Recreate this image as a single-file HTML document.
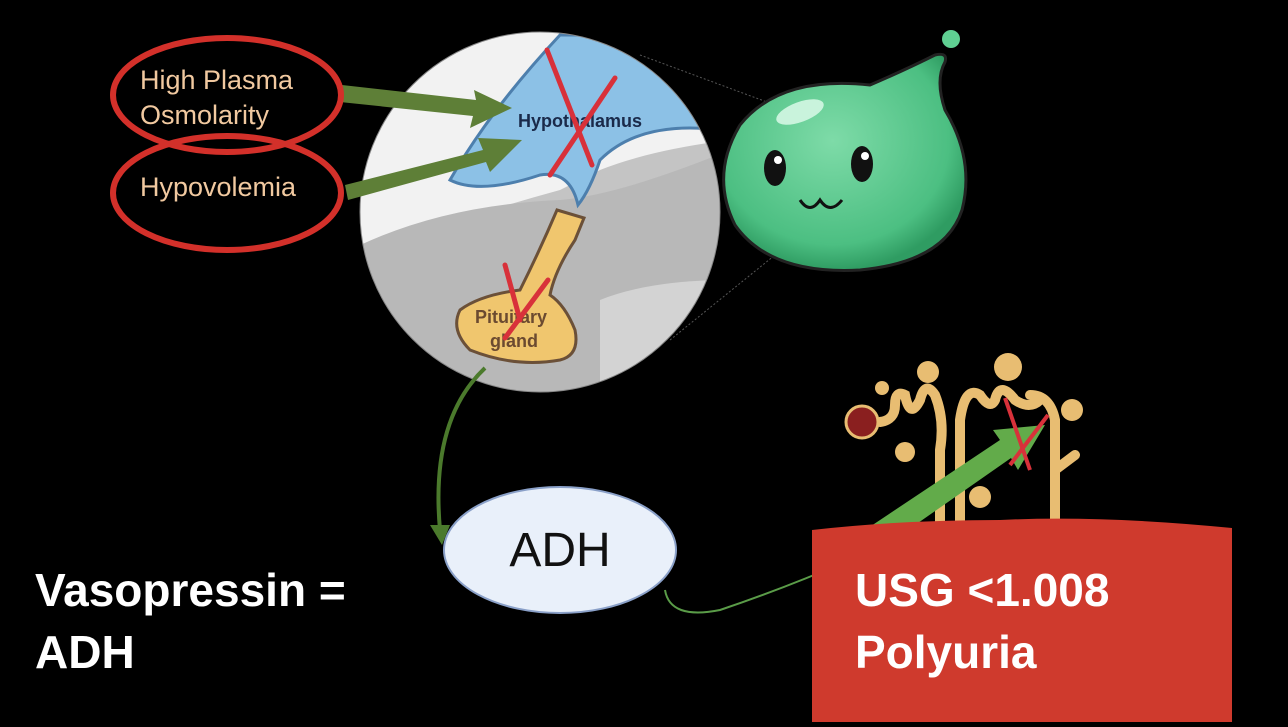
<!DOCTYPE html>
<html><head><style>
body{margin:0;background:#000;width:1288px;height:722px;overflow:hidden;font-family:"Liberation Sans",sans-serif}
</style></head><body>
<svg width="1288" height="722" viewBox="0 0 1288 722" xmlns="http://www.w3.org/2000/svg">
<defs>
<clipPath id="c"><circle cx="540" cy="212" r="180"/></clipPath>
<radialGradient id="g" cx="0.45" cy="0.4" r="0.6"><stop offset="0" stop-color="#7edba8"/><stop offset="0.8" stop-color="#4cbf82"/><stop offset="1" stop-color="#2f9c62"/></radialGradient>
</defs>
<line x1="640" y1="55" x2="775" y2="105" stroke="#555" stroke-dasharray="2,2"/>
<line x1="670" y1="340" x2="775" y2="255" stroke="#555" stroke-dasharray="2,2"/>
<g clip-path="url(#c)">
<rect x="350" y="20" width="380" height="380" fill="#c4c4c4"/>
<path d="M350 260 Q450 220 560 190 L600 170 Q650 150 730 140 L730 20 L350 20Z" fill="#f2f2f2"/>
<path d="M350 110 Q400 70 470 40 L500 30 L350 30Z" fill="#b5b5b5"/>
<path d="M350 250 Q440 205 560 200 Q620 195 730 150 L730 400 L350 400Z" fill="#b8b8b8"/>
<path d="M600 300 Q650 280 730 280 L730 400 L600 400Z" fill="#d3d3d3"/>
<path d="M350 280 Q380 300 390 400 L350 400Z" fill="#d8d8d8"/>
<path d="M450 180 Q490 110 560 35 L760 35 L720 130 Q640 120 600 160 Q590 190 578 205 Q570 170 540 175 Q480 195 450 180Z" fill="#8cc1e6" stroke="#4d7fad" stroke-width="3"/>
<path d="M557 210 L584 218 L575 240 Q555 270 550 295 Q565 305 575 330 Q580 355 560 360 Q515 368 470 350 Q450 330 460 310 Q480 295 520 290 Q540 250 557 210Z" fill="#f0c66e" stroke="#6b5038" stroke-width="3"/>
</g>
<circle cx="540" cy="212" r="180" fill="none" stroke="#888" stroke-width="1"/>
<text x="518" y="127" font-size="18" font-weight="bold" fill="#1a2a4a">Hypothalamus</text>
<text x="475" y="323" font-size="18" font-weight="bold" fill="#6b4a30">Pituitary</text>
<text x="490" y="347" font-size="18" font-weight="bold" fill="#6b4a30">gland</text>
<g stroke="#d8313a" stroke-width="5" stroke-linecap="round">
<line x1="547" y1="50" x2="592" y2="165"/><line x1="615" y1="78" x2="550" y2="175"/>
<line x1="505" y1="265" x2="520" y2="320"/><line x1="548" y1="280" x2="505" y2="338"/>
</g>
<!-- slime -->
<path d="M870 85 Q905 70 935 55 Q948 52 945 62 Q935 80 945 110 Q975 160 962 210 Q945 262 860 270 Q770 275 735 225 Q710 175 740 125 Q780 75 870 85Z" fill="url(#g)" stroke="#222" stroke-width="3"/>
<circle cx="951" cy="39" r="9" fill="#5fcf92"/>
<ellipse cx="800" cy="112" rx="25" ry="10" fill="#c9f3dc" transform="rotate(-20 800 112)"/>
<ellipse cx="775" cy="168" rx="11" ry="18" fill="#111"/><ellipse cx="862" cy="164" rx="11" ry="18" fill="#111"/>
<circle cx="778" cy="160" r="4" fill="#fff"/><circle cx="865" cy="156" r="4" fill="#fff"/>
<path d="M800 200 Q810 215 820 200 Q830 215 842 200" fill="none" stroke="#111" stroke-width="3"/>
<g stroke="#e8bd72" stroke-width="10" fill="none" stroke-linecap="round">
<path d="M880 422 Q895 420 895 405 Q895 390 905 395 Q910 420 920 400 Q925 380 935 395 Q945 420 940 450 L940 530"/>
<path d="M960 530 L960 420 Q965 385 980 395 Q990 410 995 400 Q1000 380 1015 400 Q1030 410 1040 400"/>
<path d="M1055 530 L1055 420 Q1050 395 1030 395"/>
<path d="M1055 470 L1075 455"/>
</g>
<g fill="#e8bd72"><circle cx="928" cy="372" r="11"/><circle cx="1008" cy="367" r="14"/><circle cx="1072" cy="410" r="11"/><circle cx="905" cy="452" r="10"/><circle cx="980" cy="497" r="11"/><circle cx="882" cy="388" r="7"/></g>
<circle cx="862" cy="422" r="16" fill="#8a1f1f" stroke="#e8bd72" stroke-width="3"/>
<g fill="#5e7f37">
<polygon points="342,85 476,100 474,90 512,108 470,128 473,116 340,102"/>
<polygon points="345,185 483,150 478,138 522,140 490,172 486,162 348,200"/>
</g>
<path d="M485 368 Q430 420 440 530" fill="none" stroke="#4b7a2c" stroke-width="4"/>
<polygon points="430,525 450,525 442,545" fill="#4b7a2c"/>
<path d="M665 590 Q670 620 720 610 Q780 590 850 560" fill="none" stroke="#5a9c48" stroke-width="2"/>
<polygon points="850,540 1000,440 993,430 1045,425 1018,470 1011,458 865,560" fill="#62ab4a"/>
<g stroke="#d8313a" stroke-width="4"><line x1="1005" y1="398" x2="1030" y2="470"/><line x1="1048" y1="415" x2="1010" y2="465"/></g>
<ellipse cx="227" cy="95" rx="114" ry="57" fill="none" stroke="#d3302a" stroke-width="6"/>
<ellipse cx="227" cy="193" rx="114" ry="57" fill="none" stroke="#d3302a" stroke-width="6"/>
<text x="140" y="89" font-size="27" fill="#f1c9a0">High Plasma</text>
<text x="140" y="124" font-size="27" fill="#f1c9a0">Osmolarity</text>
<text x="140" y="196" font-size="27" fill="#f1c9a0">Hypovolemia</text>
<ellipse cx="560" cy="550" rx="116" ry="63" fill="#e9f0fa" stroke="#8aa0c8" stroke-width="2"/>
<text x="560" y="566" font-size="48" text-anchor="middle" fill="#111">ADH</text>
<path d="M812 530 Q900 520 1000 520 Q1100 515 1232 528 L1232 722 L812 722Z" fill="#cf3a2d"/>
<text x="855" y="606" font-size="46" font-weight="bold" fill="#fff">USG &lt;1.008</text>
<text x="855" y="668" font-size="46" font-weight="bold" fill="#fff">Polyuria</text>
<text x="35" y="606" font-size="46" font-weight="bold" fill="#fff">Vasopressin =</text>
<text x="35" y="668" font-size="46" font-weight="bold" fill="#fff">ADH</text>
</svg>
</body></html>
